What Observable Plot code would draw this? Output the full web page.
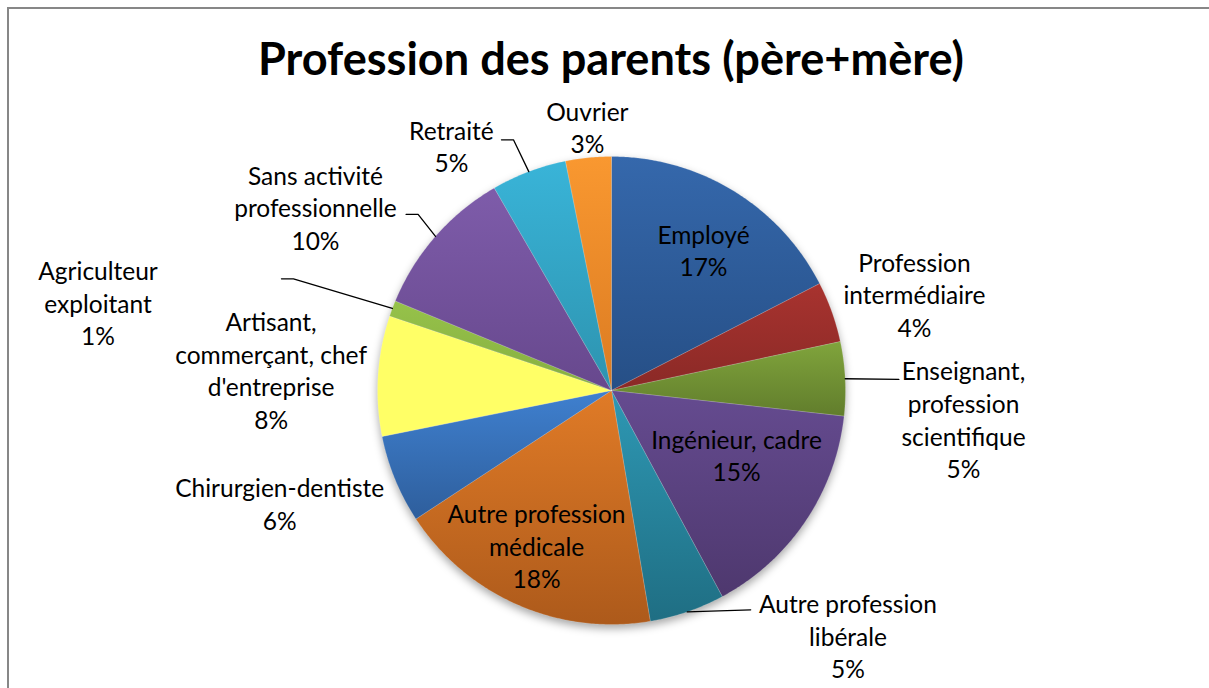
<!DOCTYPE html>
<html><head><meta charset="utf-8">
<script src="https://cdn.jsdelivr.net/npm/d3@7"></script>
<script src="https://cdn.jsdelivr.net/npm/@observablehq/plot@0.6"></script>
<style>
html,body{margin:0;padding:0;background:#fff;}
#wrap{position:relative;width:1209px;height:688px;overflow:hidden;font-family:Lato,sans-serif;}
#frame{position:absolute;left:7px;top:7px;width:1400px;height:900px;border-top:2px solid #878787;border-left:2px solid #878787;box-sizing:border-box;}
#chart{position:absolute;left:0;top:0;}
#title{position:absolute;left:611px;top:35px;white-space:nowrap;font-weight:700;font-size:46px;line-height:1;color:#000;}
</style></head><body>
<div id="wrap"><div id="frame"></div><div id="chart"></div><div id="title">Profession des parents (père+mère)</div></div>
<script>
// ---- data ----
const categories = ["Employé","Profession intermédiaire","Enseignant, profession scientifique","Ingénieur, cadre","Autre profession libérale","Autre profession médicale","Chirurgien-dentiste","Artisant, commerçant, chef d'entreprise","Agriculteur exploitant","Sans activité professionnelle","Retraité","Ouvrier"];
const labelLines = ["Employé","Profession\nintermédiaire","Enseignant,\nprofession\nscientifique","Ingénieur, cadre","Autre profession\nlibérale","Autre profession\nmédicale","Chirurgien-dentiste","Artisant,\ncommerçant, chef\nd'entreprise","Agriculteur\nexploitant","Sans activité\nprofessionnelle","Retraité","Ouvrier"];
const shares = [17.45, 4.2, 5.1, 15.4, 5.2, 18.4, 6.1, 8.3, 1.1, 10.4, 5.2, 3.15];

// ---- styles ----
const topColors    = ["#3568AC","#A8332F","#80A43C","#654B90","#2E98B4","#E07B27","#3F80CF","#FFFF66","#96C24A","#7E5CAA","#39B4D8","#F99830"];
const bottomColors = ["#264F86","#8A2926","#617D2C","#4E386E","#1F6E83","#AD5A1B","#2E5E9C","#FFFF66","#86AE40","#67488D","#2D93AF","#DB7B22"];

// ---- label layout (relative to slice mid-angle, radius in pie radii) ----
const labelShift  = [2.1, 2.3, 7.8, -6.2, -24.9, 2.0, 3.3, -0.4, -11.0, -9.7, -12.7, 0.4];
const labelRadius = [0.712, 1.356, 1.51, 0.604, 1.46, 0.742, 1.50, 1.457, 2.225, 1.484, 1.243, 1.124];
const leaderEnd   = [null, null, [87.8,1.229], null, [147.6,1.110], null, null, null, [288.7,1.489], [310.6,1.156], [336.3,1.170], null];

const R = 234;
const total = d3.sum(shares);
const rad = d => d * Math.PI / 180;
const polar = (deg, r) => ({x: r * Math.sin(rad(deg)), y: -r * Math.cos(rad(deg))});
let acc = 0;
const slices = categories.map((name, i) => {
  const a0 = acc / total * 360; acc += shares[i]; const a1 = acc / total * 360;
  return {name, i, a0, a1, mid: (a0 + a1) / 2};
});
const slicePts = slices.flatMap(s => {
  const pts = [{name: s.name, x: 0, y: 0}];
  const n = Math.max(2, Math.ceil((s.a1 - s.a0) / 0.5));
  for (let k = 0; k <= n; k++) pts.push({name: s.name, ...polar(s.a0 + (s.a1 - s.a0) * k / n, R)});
  pts.push({name: s.name, x: 0, y: 0});
  return pts;
});
const labels = slices.map((s, i) => ({
  ...polar(s.mid + labelShift[i], R * labelRadius[i]),
  text: labelLines[i] + "\n" + Math.round(shares[i] / total * 100) + "%"
}));
const leaders = slices.flatMap((s, i) => {
  if (!leaderEnd[i]) return [];
  const p0 = polar(s.mid, R);
  const e = polar(leaderEnd[i][0], R * leaderEnd[i][1]);
  const pts = [p0];
  if (Math.abs(p0.y - e.y) > 8) pts.push({x: e.x + (e.x < 0 ? 12 : -12), y: e.y});
  pts.push(e);
  return pts.map(p => ({...p, id: s.name}));
});

const plot = Plot.plot({
  width: 1209, height: 688, margin: 0,
  style: {fontFamily: "Lato, sans-serif", background: "transparent", overflow: "visible"},
  x: {domain: [-611, 598], range: [0, 1209], axis: null},
  y: {domain: [-390, 298], range: [0, 688], axis: null},
  color: {domain: categories, range: categories.map((_, i) => `url(#g${i})`)},
  marks: [
    Plot.dot([{x: 0, y: 4}], {x: "x", y: "y", r: R, fill: "#000", fillOpacity: 0.35, stroke: null}),
    Plot.line(slicePts, {x: "x", y: "y", z: "name", fill: "name", stroke: "#ffffff", strokeOpacity: 0.25, strokeWidth: 0.7, curve: "linear"}),
    Plot.line(leaders, {x: "x", y: "y", z: "id", stroke: "#000", strokeWidth: 1.3}),
    Plot.text(labels, {x: "x", y: "y", text: "text", fontSize: 24.5, lineHeight: 1.33, textAnchor: "middle", lineAnchor: "middle", dy: -2, fill: "#000"})
  ]
});
const defs = d3.select(plot).insert("defs", ":first-child");
categories.forEach((c, i) => {
  const g = defs.append("linearGradient").attr("id", "g" + i).attr("x1", 0).attr("y1", 0).attr("x2", 0).attr("y2", 1);
  g.append("stop").attr("offset", 0).attr("stop-color", topColors[i]);
  g.append("stop").attr("offset", 1).attr("stop-color", bottomColors[i]);
});
const f = defs.append("filter").attr("id", "shadow").attr("x", "-20%").attr("y", "-20%").attr("width", "140%").attr("height", "140%");
f.append("feGaussianBlur").attr("stdDeviation", 4);
d3.select(plot).selectAll("circle").attr("filter", "url(#shadow)");
document.getElementById("chart").appendChild(plot);

const title = document.getElementById("title");
const w = title.getBoundingClientRect().width;
title.style.transform = `translateX(-50%) scaleX(${706 / w})`;
</script>
</body></html>
